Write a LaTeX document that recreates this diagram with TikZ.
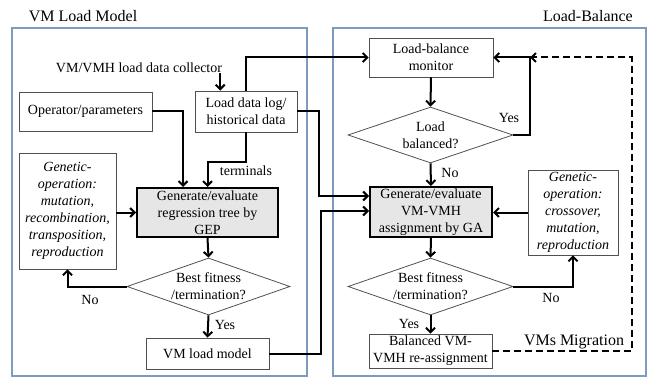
\documentclass[tikz,border=0pt]{standalone}
\usepackage{fontspec}
\setmainfont{Liberation Serif}
\usetikzlibrary{shapes.geometric,arrows.meta}
\definecolor{panelc}{RGB}{125,155,192}
\definecolor{boxc}{RGB}{80,80,80}
\definecolor{fillc}{RGB}{230,230,230}
\tikzset{
  txt/.style={font=\rmfamily\fontsize{14}{17}\selectfont, inner sep=0pt, align=center},
  ttl/.style={font=\rmfamily\fontsize{16}{19}\selectfont, inner sep=0pt},
  panel/.style={draw=panelc, line width=1.2pt, inner sep=0pt},
  plainbox/.style={txt, draw=boxc, line width=0.8pt},
  mainbox/.style={txt, draw=black, line width=2pt, fill=fillc},
  decision/.style={txt, draw=boxc, line width=0.8pt, diamond, aspect=2.86},
  gobox/.style={txt, draw=boxc, line width=0.8pt, font=\rmfamily\itshape\fontsize{14}{17}\selectfont},
  arr/.style={line width=2pt, -{Straight Barb[length=4.5pt,width=9pt]}},
  lbl/.style={txt}
}
\begin{document}
\begin{tikzpicture}[x=1pt,y=-1pt]
\useasboundingbox (0,0) rectangle (651,377);
% panels
\node[panel, minimum width=295, minimum height=348] (panelL) at (159.5,202) {};
\node[panel, minimum width=313, minimum height=348] (panelR) at (489.5,202) {};
\node[ttl] (titleL) at (83,16) {VM Load Model};
\node[ttl, anchor=east] (titleR) at (633,16) {Load-Balance};
% left
\node[txt] (collector) at (139,68) {VM/VMH load data collector};
\node[plainbox, minimum width=102, minimum height=41] (logbox) at (246,111.5) {Load data log/\\historical data};
\node[plainbox, minimum width=133, minimum height=39] (opbox) at (85.5,111.5) {Operator/parameters};
\node[gobox, minimum width=97, minimum height=116] (genL) at (67.5,211) {Genetic-\\operation:\\mutation,\\recombination,\\transposition,\\reproduction};
\node[mainbox, minimum width=141, minimum height=49] (gep) at (207.5,212.5) {Generate/evaluate\\regression tree by\\GEP};
\node[decision, minimum width=163, minimum height=57] (decL) at (208.5,286.5) {Best fitness\\/termination?};
\node[plainbox, minimum width=123, minimum height=31] (vmload) at (207.5,353.5) {VM load model};
% right
\node[plainbox, minimum width=124, minimum height=39] (monitor) at (431,57.5) {Load-balance\\monitor};
\node[decision, minimum width=165, minimum height=56] (balR) at (430.5,135) {Load\\balanced?};
\node[mainbox, minimum width=122, minimum height=50] (ga) at (431,212) {Generate/evaluate\\VM-VMH\\assignment by GA};
\node[gobox, minimum width=90, minimum height=85] (genR) at (573,212.5) {Genetic-\\operation:\\crossover,\\mutation,\\reproduction};
\node[decision, minimum width=165, minimum height=57] (decR) at (430.5,286.5) {Best fitness\\/termination?};
\node[plainbox, minimum width=123, minimum height=34] (balanced) at (430.5,351) {Balanced VM-\\VMH re-assignment};
% labels
\node[lbl] (lterm) at (246,171) {terminals};
\node[lbl] (lnoL) at (90,300) {No};
\node[lbl] (lyesL) at (225,325) {Yes};
\node[lbl] (lyesB) at (509,118) {Yes};
\node[lbl] (lnoB) at (450,173) {No};
\node[lbl] (lnoR) at (551,298) {No};
\node[lbl] (lyesR) at (409,324) {Yes};
\node[ttl] (lmig) at (574,342) {VMs Migration};
% connectors left
\draw[arr] ([xshift=-2pt]collector.south east) -- ([xshift=-2pt]collector.south east |- logbox.north);
\draw[arr] (logbox.north) |- (monitor.west);
\draw[arr] (opbox.east) -| ([xshift=-24.5pt]gep.north);
\draw[arr] (logbox.south) -- ++(0,30) -| (gep.north);
\draw[arr] (genL.east |- gep.west) -- (gep.west);
\draw[arr] (gep.south) -- (decL.north);
\draw[arr] (decL.west) -| (genL.south);
\draw[arr] (decL.south) -- (vmload.north);
\draw[arr] (vmload.east) -- ++(52,0) |- ([yshift=1pt]ga.west);
\draw[arr] (logbox.east) -- ++(22,0) |- ([yshift=16pt]ga.west);
% connectors right
\coordinate (yesC) at (530,57.5);
\coordinate (dashC) at (632,57.5);
\draw[arr] (monitor.south) -- (balR.north);
\draw[arr] (balR.east) -| (yesC) -- (monitor.east);
\draw[arr] (balR.south) -- (ga.north);
\draw[arr] (genR.west) -- (genR.west -| ga.east);
\draw[arr] (ga.south) -- (decR.north);
\draw[arr] (decR.east) -| (genR.south);
\draw[arr] (decR.south) -- (balanced.north);
\draw[arr, dash pattern=on 7pt off 4pt] (balanced.east) -| (dashC) -- (yesC);
\end{tikzpicture}
\end{document}
